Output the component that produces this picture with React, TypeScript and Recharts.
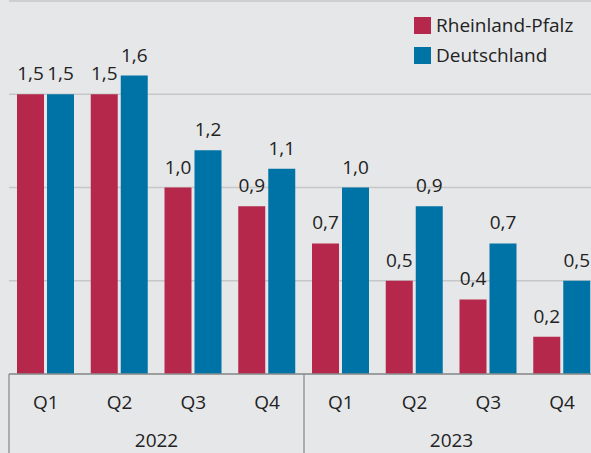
import { BarChart, Bar, XAxis, YAxis, CartesianGrid, Legend, LabelList } from 'recharts';

const quarters = ['Q1', 'Q2', 'Q3', 'Q4', 'Q1', 'Q2', 'Q3', 'Q4'];
const years = ['2022', '2022', '2022', '2022', '2023', '2023', '2023', '2023'];
const rheinlandPfalz = [1.5, 1.5, 1.0, 0.9, 0.7, 0.5, 0.4, 0.2];
const deutschland = [1.5, 1.6, 1.2, 1.1, 1.0, 0.9, 0.7, 0.5];
const yTicks = [0, 0.5, 1, 1.5, 2];

const RED = '#b5284b';
const BLUE = '#0073a6';
const BG = '#e6e7e9';
const GRID = '#c6c7c9';
const AXIS = '#8a8c8e';
const TEXT = '#222222';
const FONT = '"Open Sans", "Noto Sans", sans-serif';

const series = [
  { key: 'rp', name: 'Rheinland-Pfalz', color: RED },
  { key: 'de', name: 'Deutschland', color: BLUE },
];

const data = quarters.map((q, i) => ({
  q,
  year: years[i],
  rp: rheinlandPfalz[i],
  de: deutschland[i],
}));

const fmt = (v: any) => Number(v).toFixed(1).replace('.', ',');

function QuarterTick(props: any) {
  const { x, y, payload, index } = props;
  const half = payload.offset ?? 36.9;
  return (
    <g>
      {index % 4 === 0 && (
        <line x1={x - half} x2={x - half} y1={y} y2={y + 90} stroke={AXIS} strokeWidth={1.3} />
      )}
      {index === quarters.length - 1 && (
        <line x1={x + half} x2={x + half} y1={y} y2={y + 90} stroke={AXIS} strokeWidth={1.3} />
      )}
      <text x={x} y={y + 35} textAnchor="middle" fontSize={19} fill={TEXT} fontFamily={FONT}>
        {payload.value}
      </text>
    </g>
  );
}

function YearTick(props: any) {
  const { x, y, payload, index } = props;
  const half = payload.offset ?? 36.9;
  if (index % 4 !== 1) return <g />;
  return (
    <text x={x + half} y={y + 33} textAnchor="middle" fontSize={19} fill={TEXT} fontFamily={FONT}>
      {years[index]}
    </text>
  );
}

function LegendBox() {
  return (
    <div style={{ fontFamily: FONT }}>
      {series.map((s) => (
        <div key={s.key} style={{ display: 'flex', alignItems: 'center', height: 30 }}>
          <span style={{ width: 17, height: 17, background: s.color, marginRight: 5, display: 'inline-block' }} />
          <span style={{ fontSize: 19, color: TEXT, lineHeight: '20px' }}>{s.name}</span>
        </div>
      ))}
    </div>
  );
}

export default function App() {
  return (
    <div style={{ position: 'fixed', left: 0, top: 0, width: 591, height: 453, overflow: 'hidden', background: BG }}>
      <BarChart
        width={612}
        height={470}
        data={data}
        margin={{ top: 1, right: 13, left: 9, bottom: 16 }}
        barSize={27}
        barGap={3}
        style={{ fontFamily: FONT }}
      >
        <CartesianGrid vertical={false} stroke={GRID} strokeWidth={1.5} />
        <YAxis hide domain={[0, 2]} ticks={yTicks} />
        <XAxis
          dataKey="q"
          height={40}
          interval={0}
          tickLine={false}
          tickSize={0}
          tickMargin={0}
          axisLine={{ stroke: AXIS, strokeWidth: 1.5 }}
          tick={<QuarterTick />}
        />
        <XAxis
          dataKey="q"
          xAxisId="year"
          height={40}
          interval={0}
          tickLine={false}
          tickSize={0}
          tickMargin={0}
          axisLine={false}
          tick={<YearTick />}
        />
        <Legend
          layout="vertical"
          align="center"
          verticalAlign="middle"
          wrapperStyle={{ top: 10, left: 414, width: 'auto' }}
          content={<LegendBox />}
        />
        {series.map((s) => (
          <Bar key={s.key} dataKey={s.key} name={s.name} fill={s.color} isAnimationActive={false}>
            <LabelList dataKey={s.key} position="top" offset={14} formatter={fmt} fill={TEXT} fontSize={19} fontFamily={FONT} />
          </Bar>
        ))}
      </BarChart>
    </div>
  );
}
